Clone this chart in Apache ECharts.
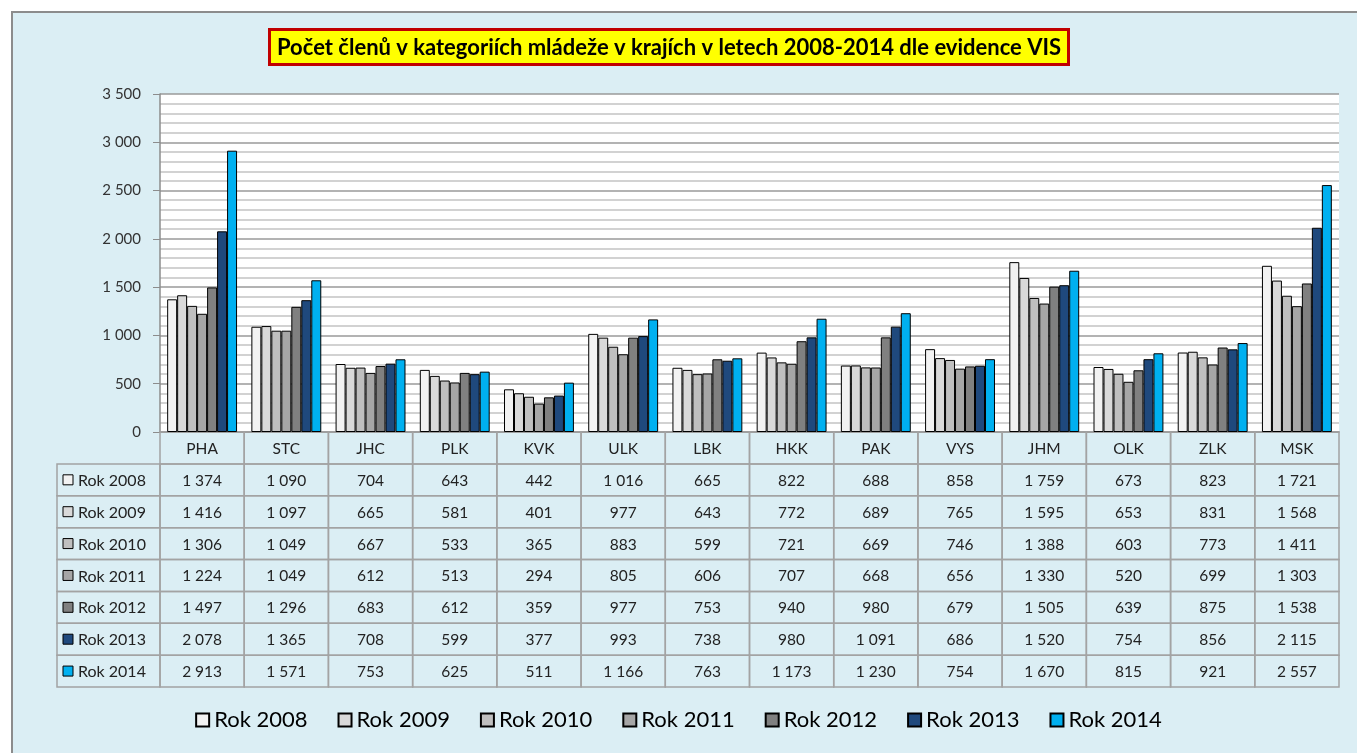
<!DOCTYPE html>
<html>
<head>
<meta charset="utf-8">
<script src="https://cdn.jsdelivr.net/npm/echarts@6/dist/echarts.min.js"></script>
<style>
  html, body { margin: 0; padding: 0; background: #fff; }
  #chart { width: 1357px; height: 753px; }
</style>
</head>
<body>
<div id="chart"></div>
<script>
// kraje
var categories = ['PHA', 'STC', 'JHC', 'PLK', 'KVK', 'ULK', 'LBK', 'HKK', 'PAK', 'VYS', 'JHM', 'OLK', 'ZLK', 'MSK'];
var years = ['Rok 2008', 'Rok 2009', 'Rok 2010', 'Rok 2011', 'Rok 2012', 'Rok 2013', 'Rok 2014'];

var rok2008 = [1374, 1090, 704, 643, 442, 1016, 665, 822, 688, 858, 1759, 673, 823, 1721];
var rok2009 = [1416, 1097, 665, 581, 401, 977, 643, 772, 689, 765, 1595, 653, 831, 1568];
var rok2010 = [1306, 1049, 667, 533, 365, 883, 599, 721, 669, 746, 1388, 603, 773, 1411];
var rok2011 = [1224, 1049, 612, 513, 294, 805, 606, 707, 668, 656, 1330, 520, 699, 1303];
var rok2012 = [1497, 1296, 683, 612, 359, 977, 753, 940, 980, 679, 1505, 639, 875, 1538];
var rok2013 = [2078, 1365, 708, 599, 377, 993, 738, 980, 1091, 686, 1520, 754, 856, 2115];
var rok2014 = [2913, 1571, 753, 625, 511, 1166, 763, 1173, 1230, 754, 1670, 815, 921, 2557];

var yTicks = [0, 500, 1000, 1500, 2000, 2500, 3000, 3500];

var allData = [rok2008, rok2009, rok2010, rok2011, rok2012, rok2013, rok2014];
var colors = ['#f2f2f2', '#d9d9d9', '#bfbfbf', '#a6a6a6', '#808080', '#1f497d', '#00b0f0'];
var font = 'Lato, "Open Sans", sans-serif';
var lineCol = '#a3a3a3';

// mezery po tisicich
function fmt(v) {
	return String(v).replace(/\B(?=(\d{3})+(?!\d))/g, '\u00a0');
}

var myChart = echarts.init(document.getElementById('chart'));

var barSeries = years.map(function (name, i) {
	return {
		name: name,
		type: 'bar',
		xAxisIndex: 0,
		yAxisIndex: 0,
		data: allData[i],
		barGap: '0%',
		barCategoryGap: '17%',
		itemStyle: { color: colors[i], borderColor: '#000', borderWidth: 1 },
		animation: false
	};
});

// tabulka pod grafem: radek 0 = nazvy kraju, dalsi radky = roky
var tableCells = [];
for (var c = 0; c < categories.length; c++) {
	for (var r = 0; r <= years.length; r++) {
		tableCells.push([c, r]);
	}
}

var tableSeries = {
	name: 'tabulka',
	type: 'custom',
	xAxisIndex: 1,
	yAxisIndex: 1,
	silent: true,
	animation: false,
	data: tableCells,
	renderItem: function (params, api) {
		var c = api.value(0), r = api.value(1);
		var p = api.coord([c, r]);
		var s = api.size([1, 1]);
		var x0 = p[0] - s[0] / 2, y0 = p[1] - s[1] / 2;
		var kids = [{
			type: 'rect',
			shape: { x: x0, y: y0, width: s[0], height: s[1] },
			style: { fill: null, stroke: lineCol, lineWidth: 1.5 }
		}, {
			type: 'text',
			style: {
				x: p[0], y: p[1] + 1,
				text: r === 0 ? categories[c] : fmt(allData[r - 1][c]),
				fill: '#222', font: '15.5px ' + font,
				align: 'center', verticalAlign: 'middle'
			}
		}];
		if (c === 0 && r > 0) {
			var hx = params.coordSys.x - 103;
			kids.push({
				type: 'rect',
				shape: { x: hx, y: y0, width: 103, height: s[1] },
				style: { fill: null, stroke: lineCol, lineWidth: 1.5 }
			}, {
				type: 'rect',
				shape: { x: hx + 6, y: p[1] - 5, width: 10, height: 10 },
				style: { fill: colors[r - 1], stroke: '#000', lineWidth: 1 }
			}, {
				type: 'text',
				style: {
					x: hx + 21, y: p[1] + 1,
					text: years[r - 1], fill: '#222', font: '16px ' + font,
					align: 'left', verticalAlign: 'middle'
				}
			});
		}
		return { type: 'group', children: kids };
	}
};

var option = {
	backgroundColor: '#dbeef4',
	animation: false,
	title: {
		text: 'Počet členů v kategoriích mládeže v krajích v letech 2008-2014 dle evidence VIS',
		left: 269,
		top: 29,
		padding: [6, 8, 5, 8],
		backgroundColor: '#ffff00',
		borderColor: '#c00000',
		borderWidth: 3,
		textStyle: { fontFamily: font, fontSize: 22, lineHeight: 25, fontWeight: 'bold', color: '#000' }
	},
	graphic: [
		{ type: 'rect', shape: { x: 0, y: 0, width: 1357, height: 11 }, style: { fill: '#fff' } },
		{ type: 'rect', shape: { x: 0, y: 0, width: 11, height: 753 }, style: { fill: '#fff' } },
		{ type: 'line', shape: { x1: 11, y1: 12, x2: 1357, y2: 12 }, style: { stroke: '#8c8c8c', lineWidth: 2 } },
		{ type: 'line', shape: { x1: 12, y1: 11, x2: 12, y2: 753 }, style: { stroke: '#8c8c8c', lineWidth: 2 } }
	],
	legend: {
		data: years,
		bottom: 17,
		left: 'center',
		icon: 'rect',
		itemWidth: 13,
		itemHeight: 13,
		itemGap: 30,
		textStyle: { fontFamily: font, fontSize: 22, color: '#000' }
	},
	grid: [
		{ left: 160, top: 94, width: 1179, height: 338, show: true, backgroundColor: '#fff', borderWidth: 0 },
		{ left: 160, top: 432, width: 1179, height: 255 }
	],
	xAxis: [{
		type: 'category',
		gridIndex: 0,
		data: categories,
		axisLine: { lineStyle: { color: '#8c8c8c', width: 1.5 } },
		axisTick: { show: false },
		axisLabel: { show: false }
	}, {
		type: 'category',
		gridIndex: 1,
		data: categories,
		axisLine: { show: false },
		axisTick: { show: false },
		axisLabel: { show: false }
	}],
	yAxis: [{
		type: 'value',
		gridIndex: 0,
		min: yTicks[0],
		max: yTicks[yTicks.length - 1],
		interval: 500,
		axisLine: { show: true, lineStyle: { color: '#8c8c8c', width: 1.5 } },
		axisTick: { show: true, length: 7, lineStyle: { color: '#8c8c8c' } },
		axisLabel: {
			margin: 19, fontSize: 15, color: '#333', fontFamily: font,
			formatter: function (v) { return fmt(v); }
		},
		splitLine: { lineStyle: { color: '#9a9a9a', width: 1.5 } },
		minorTick: { show: false, splitNumber: 5 },
		minorSplitLine: { show: true, lineStyle: { color: '#c4c4c4', width: 1.5 } }
	}, {
		type: 'category',
		gridIndex: 1,
		inverse: true,
		data: [''].concat(years),
		axisLine: { show: false },
		axisTick: { show: false },
		axisLabel: { show: false }
	}],
	series: barSeries.concat([tableSeries])
};

myChart.setOption(option);
</script>
</body>
</html>
